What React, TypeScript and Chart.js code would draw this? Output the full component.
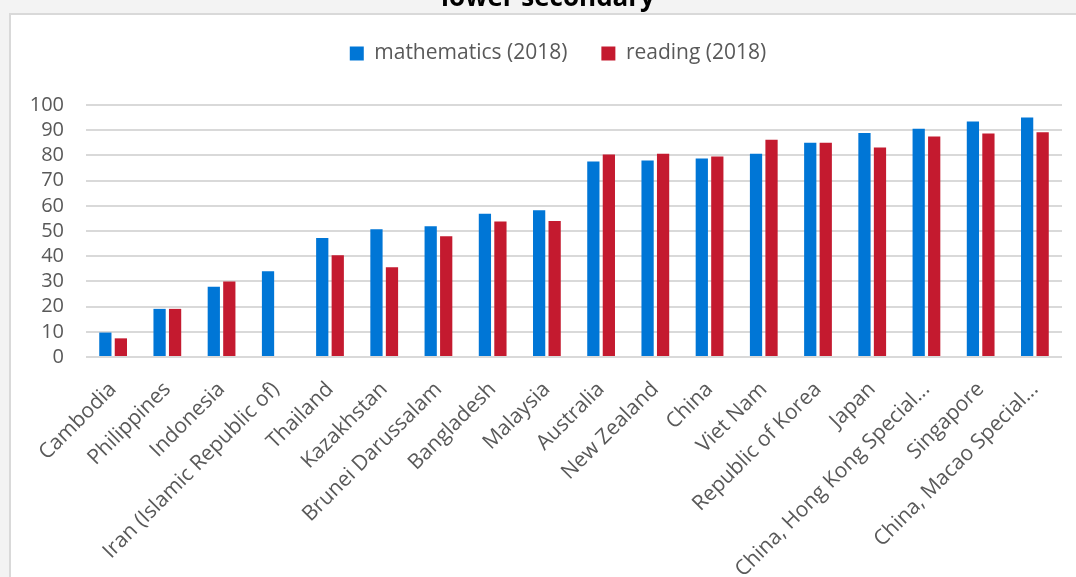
import React, { useEffect, useRef } from 'react';
import { Chart, registerables } from 'chart.js';

Chart.register(...registerables);

const TITLE = 'lower secondary';
const categories = [
  'Cambodia',
  'Philippines',
  'Indonesia',
  'Iran (Islamic Republic of)',
  'Thailand',
  'Kazakhstan',
  'Brunei Darussalam',
  'Bangladesh',
  'Malaysia',
  'Australia',
  'New Zealand',
  'China',
  'Viet Nam',
  'Republic of Korea',
  'Japan',
  'China, Hong Kong Special...',
  'Singapore',
  'China, Macao Special...',
];
const mathematics = [9.7, 19.1, 27.9, 34.0, 47.2, 50.7, 51.9, 56.8, 58.2, 77.6, 78.0, 78.8, 80.7, 85.0, 88.9, 90.6, 93.5, 95.0];
const reading = [7.4, 19.1, 30.0, null, 40.4, 35.6, 47.9, 53.8, 54.0, 80.4, 80.7, 79.6, 86.2, 85.0, 83.1, 87.5, 88.7, 89.2];
const seriesNames = ['mathematics (2018)', 'reading (2018)'];
const yMin = 0;
const yMax = 100;
const yStep = 10;

const FONT = '"Open Sans", "DejaVu Sans", sans-serif';
const GRAY = '#595959';

const titlePlugin = {
  id: 'cutTitle',
  afterDraw(chart: any) {
    const ctx = chart.ctx;
    ctx.save();
    ctx.font = `bold 26px ${FONT}`;
    ctx.fillStyle = '#000000';
    ctx.textAlign = 'center';
    ctx.textBaseline = 'alphabetic';
    ctx.fillText(TITLE, 548, 6);
    ctx.restore();
  },
};

const legendShift = {
  id: 'legendShift',
  afterLayout(chart: any) {
    const lg = chart.legend;
    if (lg) {
      lg.left += 27;
      lg.right += 27;
    }
  },
};

export default function App() {
  const ref = useRef<HTMLCanvasElement | null>(null);

  useEffect(() => {
    if (!ref.current) return;
    const chart = new Chart(ref.current, {
      type: 'bar',
      data: {
        labels: categories,
        datasets: [
          {
            label: seriesNames[0],
            data: mathematics,
            backgroundColor: '#0076D6',
            categoryPercentage: 0.572,
            barPercentage: 0.79,
          },
          {
            label: seriesNames[1],
            data: reading as any,
            backgroundColor: '#C41A2F',
            categoryPercentage: 0.572,
            barPercentage: 0.79,
          },
        ],
      },
      options: {
        animation: false,
        responsive: false,
        maintainAspectRatio: false,
        layout: { padding: { top: 9, right: 14, left: 0, bottom: 0 } },
        plugins: {
          title: { display: false },
          tooltip: { enabled: false },
          legend: {
            position: 'top',
            labels: {
              boxWidth: 14,
              boxHeight: 14,
              padding: 34,
              color: GRAY,
              font: { family: FONT, size: 21 },
            },
          },
        },
        scales: {
          x: {
            grid: { display: false },
            border: { display: false },
            ticks: {
              color: GRAY,
              font: { family: FONT, size: 21 },
              minRotation: 45,
              maxRotation: 45,
              autoSkip: false,
              padding: 12,
            },
            afterFit(scale: any) {
              scale.height = 220;
            },
          },
          xTop: {
            type: 'category',
            labels: categories,
            position: 'top',
            grid: { display: false, drawTicks: false },
            border: { display: false },
            ticks: { display: false },
            afterFit(scale: any) {
              scale.height = 31;
            },
          },
          y: {
            min: yMin,
            max: yMax,
            grid: { color: '#d9d9d9', lineWidth: 2, drawTicks: false },
            border: { display: false },
            ticks: {
              stepSize: yStep,
              autoSkip: false,
              color: GRAY,
              font: { family: FONT, size: 20, lineHeight: 1 },
              padding: 22,
            },
            afterFit(scale: any) {
              scale.width = 86;
            },
          },
        },
      },
      plugins: [titlePlugin, legendShift],
    });
    return () => chart.destroy();
  }, []);

  return (
    <div style={{ position: 'absolute', left: 0, top: 0, width: 1076, height: 577, background: '#f3f3f3', overflow: 'hidden' }}>
      <div
        style={{
          position: 'absolute',
          left: 9,
          top: 13,
          width: 1100,
          height: 600,
          border: '2px solid #d9d9d9',
          background: '#ffffff',
        }}
      />
      <canvas ref={ref} width={1076} height={577} style={{ position: 'absolute', left: 0, top: 0, width: 1076, height: 577 }} />
    </div>
  );
}
